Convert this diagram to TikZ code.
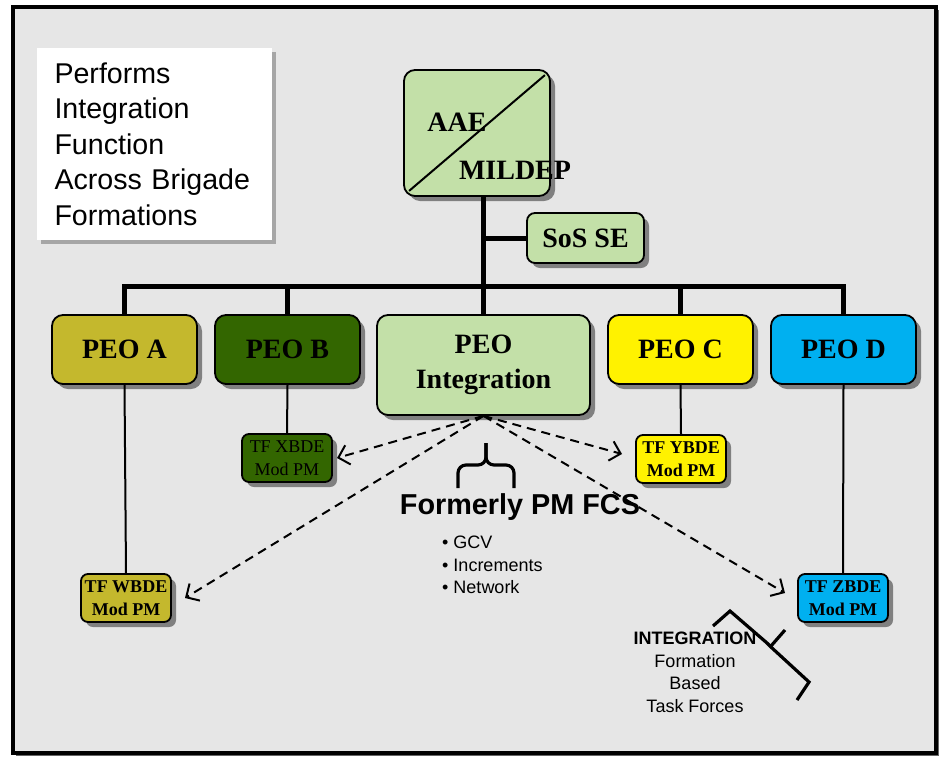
\documentclass[tikz,border=0pt]{standalone}
\usepackage{fontspec}
\usepackage{tikz}
\usetikzlibrary{arrows.meta,shadows,calc}
\newfontfamily\tnr{Liberation Serif}
\newfontfamily\arial{Liberation Sans}
\definecolor{bgray}{RGB}{230,230,230}
\definecolor{oliveA}{RGB}{196,184,45}
\definecolor{greenB}{RGB}{51,102,0}
\definecolor{lgreen}{RGB}{195,224,168}
\definecolor{cyanD}{RGB}{0,176,240}
\tikzset{
  shade5/.style={drop shadow={shadow xshift=5pt,shadow yshift=-5pt,fill=black!50,opacity=1}},
  box/.style={draw,line width=1.8pt,rounded corners=11pt,shade5,align=center,inner sep=0pt,
    font=\tnr\bfseries\fontsize{28}{35}\selectfont},
  peo/.style={box,minimum width=145pt,minimum height=69pt},
  tf/.style={box,rounded corners=7pt,minimum width=90pt,minimum height=48pt,
    font=\tnr\bfseries\fontsize{18}{23}\selectfont},
  bus/.style={line width=5pt},
  thinline/.style={line width=2pt},
  dasharrow/.style={line width=2pt,dash pattern=on 9pt off 6pt,
    -{Straight Barb[length=10pt,width=20pt,line width=2pt]}},
  brc/.style={line width=3.2pt},
  sans/.style={font=\arial\fontsize{18}{22.5}\selectfont,inner sep=0pt}
}
\begin{document}
\begin{tikzpicture}[x=1pt,y=-1pt]
\useasboundingbox (0,0) rectangle (942,758);
\draw[line width=4pt,fill=bgray,drop shadow={shadow xshift=3pt,shadow yshift=-3pt,fill=black!60,opacity=1}]
  (13,7) rectangle (936,753);

\node[fill=white,minimum width=235pt,minimum height=192pt,inner sep=0pt,text width=200pt,align=left,
  drop shadow={shadow xshift=4pt,shadow yshift=-4pt,fill=black!35,opacity=1},
  font=\arial\fontsize{28.6}{35.5}\selectfont] (note) at (154.5,144)
  {Performs\\Integration\\Function\\Across Brigade\\Formations};

\node[box,fill=lgreen,minimum width=146pt,minimum height=126pt] (aae) at (477,133) {};
\draw[line width=2pt] ($(aae.south west)+(6,-6)$) -- ($(aae.north east)+(-6,6)$);
\node[font=\tnr\bfseries\fontsize{28}{30}\selectfont] (aaet) at (457,122) {AAE};
\node[font=\tnr\bfseries\fontsize{28}{30}\selectfont] (mildep) at (515,170) {MILDEP};
\node[box,fill=lgreen,rounded corners=8pt,minimum width=117pt,minimum height=50pt] (sos) at (585.5,238) {SoS SE};

\node[peo,fill=oliveA] (peoa) at (124.5,349.5) {PEO A};
\node[peo,fill=greenB] (peob) at (287.5,349.5) {PEO B};
\node[peo,fill=lgreen,minimum width=213pt,minimum height=100pt] (intg) at (483.5,365) {PEO\\Integration};
\node[peo,fill=yellow] (peoc) at (680.5,349.5) {PEO C};
\node[peo,fill=cyanD] (peod) at (843.5,349.5) {PEO D};

\node[tf,fill=oliveA] (tfw) at (126,598) {TF WBDE\\Mod PM};
\node[tf,fill=greenB,font=\tnr\fontsize{18}{23}\selectfont] (tfx) at (287,458) {TF XBDE\\Mod PM};
\node[tf,fill=yellow] (tfy) at (681,459) {TF YBDE\\Mod PM};
\node[tf,fill=cyanD] (tfz) at (843,598) {TF ZBDE\\Mod PM};

\draw[bus] (intg.north |- aae.south) -- (intg.north);
\draw[bus] (sos.west) -- (sos.west -| intg.north);
\draw[bus] (peoa.north) -- ++(0,-28) -| (peod.north);
\draw[bus] (peob.north) -- ++(0,-28);
\draw[bus] (peoc.north) -- ++(0,-28);

\draw[thinline] (peoa.south) -- (tfw.north);
\draw[thinline] (peob.south) -- (tfx.north);
\draw[thinline] (peoc.south) -- (tfy.north);
\draw[thinline] (peod.south) -- (tfz.north);

\coordinate (tipx) at (337,458);
\coordinate (tipw) at (185,598);
\coordinate (tipy) at (622,454);
\coordinate (tipz) at (785,593);
\draw[dasharrow] (intg.south) -- (tipx);
\draw[dasharrow] (intg.south) -- (tipw);
\draw[dasharrow] (intg.south) -- (tipy);
\draw[dasharrow] (intg.south) -- (tipz);

\draw[brc,rounded corners=8pt] (458,488) -- (458,465) -- (486,465) -- (486,443);
\draw[brc,rounded corners=8pt] (514,488) -- (514,465) -- (486,465) -- (486,443);
\node[font=\arial\bfseries\fontsize{28.8}{30}\selectfont] (fcs) at (520,507) {Formerly PM FCS};
\node[sans,align=left,anchor=west] (fcslist) at (442,565) {\textbullet\ GCV\\\textbullet\ Increments\\\textbullet\ Network};

\draw[brc] (713,626) -- (730,611) -- (767,643) -- (772,648) -- (809,682) -- (797,700);
\draw[brc] (771,646) -- (785,630);
\node[sans,align=center] (integ) at (695,672.5) {\textbf{INTEGRATION}\\Formation\\Based\\Task Forces};
\end{tikzpicture}
\end{document}
